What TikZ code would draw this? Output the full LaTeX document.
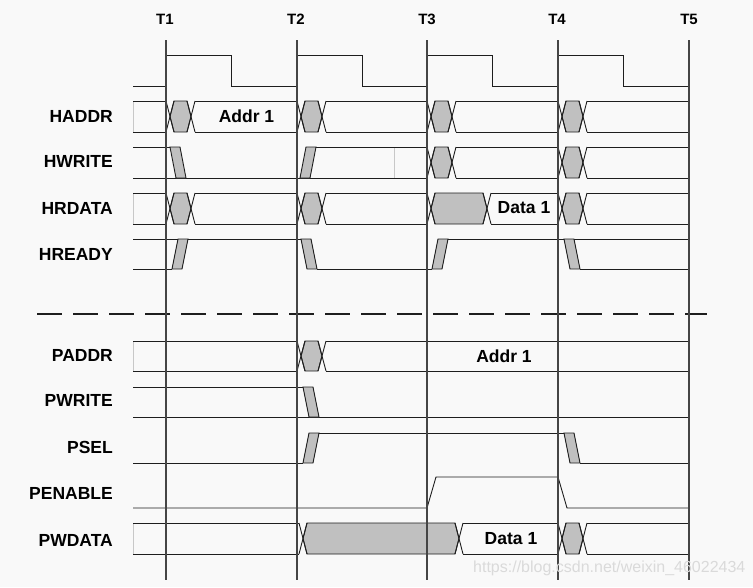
\documentclass[tikz,border=0pt]{standalone}
\usepackage{fontspec}
\setmainfont{Liberation Sans}

\definecolor{bgpaper}{HTML}{F9F9F9}
\definecolor{swapgrey}{HTML}{C0C0C0}
\definecolor{inkline}{HTML}{1E1E1E}
\definecolor{tickline}{HTML}{454545}
\definecolor{edgegrey}{HTML}{C8C8C8}
\definecolor{markgrey}{HTML}{DADADA}

% bus change: #1 start x, #2 end of grey, #3 top y, #4 bottom y
\newcommand{\sigswap}[4]{%
  \filldraw[swapfill] ({#1+4},{(#3+#4)/2}) -- ({#1+8},#3) -- (#2,#3) -- ({#2+4},{(#3+#4)/2}) -- (#2,#4) -- ({#1+8},#4) -- cycle;
  \draw[sig] (#1,#3) -- ({#1+8},#4) (#1,#4) -- ({#1+8},#3);
  \draw[sig] (#2,#3) -- ({#2+8},#4) (#2,#4) -- ({#2+8},#3);}
% rising edge: #1 foot x, #2 top y, #3 bottom y
\newcommand{\sigrise}[3]{%
  \filldraw[swapfill] (#1,#3) -- ({#1+10},#3) -- ({#1+16},#2) -- ({#1+6},#2) -- cycle;}
% falling edge: #1 head x, #2 top y, #3 bottom y
\newcommand{\sigfall}[3]{%
  \filldraw[swapfill] (#1,#2) -- ({#1+10},#2) -- ({#1+16},#3) -- ({#1+6},#3) -- cycle;}

\begin{document}
\begin{tikzpicture}[x=1pt,y=1pt,yscale=-1,xscale=1,
  sig/.style={draw=inkline, line width=0.9pt},
  swapfill/.style={sig, fill=swapgrey},
  tline/.style={draw=tickline, line width=1.2pt},
  closeline/.style={draw=edgegrey, line width=0.8pt},
  splitline/.style={draw=inkline, line width=2.4pt, dash pattern=on 25pt off 11pt},
  siglabel/.style={anchor=east, inner sep=0pt, font=\bfseries\fontsize{17.5}{20}\selectfont},
  tlabel/.style={inner sep=0pt, font=\bfseries\fontsize{15}{18}\selectfont},
  buslabel/.style={inner sep=0pt, font=\bfseries\fontsize{17.5}{20}\selectfont},
  marktext/.style={anchor=west, inner sep=0pt, text=markgrey, font=\fontsize{16}{18}\selectfont}]

%Background
\fill[bgpaper] (0,0) rectangle (753,587);
\useasboundingbox (0,0) rectangle (753,587);

% Text Node: clock edges
\node[tlabel] (t1) at (165,19) {T1};
\node[tlabel] (t2) at (296,19) {T2};
\node[tlabel] (t3) at (427,19) {T3};
\node[tlabel] (t4) at (557,19) {T4};
\node[tlabel] (t5) at (689,19) {T5};

% Text Node: signal names
\node[siglabel] (haddr) at (113,116) {HADDR};
\node[siglabel] (hwrite) at (113,161.5) {HWRITE};
\node[siglabel] (hrdata) at (113,208.5) {HRDATA};
\node[siglabel] (hready) at (113,254) {HREADY};
\node[siglabel] (paddr) at (113,355) {PADDR};
\node[siglabel] (pwrite) at (113,400.5) {PWRITE};
\node[siglabel] (psel) at (113,447.5) {PSEL};
\node[siglabel] (penable) at (113,493.5) {PENABLE};
\node[siglabel] (pwdata) at (113,540) {PWDATA};

%Clock
\draw[sig] (133,86) -- (166,86) -- (166,55) -- (231,55) -- (231,86) -- (297,86) -- (297,55) -- (362,55) -- (362,86) -- (427,86) -- (427,55) -- (492,55) -- (492,86) -- (558,86) -- (558,55) -- (623,55) -- (623,86) -- (689,86);

%HADDR
\draw[closeline] (133,101) -- (133,132);
\draw[sig] (133,101) -- (166,101) (195,101) -- (297,101) (326,101) -- (427,101) (456,101) -- (558,101) (587,101) -- (689,101);
\draw[sig] (133,132) -- (166,132) (195,132) -- (297,132) (326,132) -- (427,132) (456,132) -- (558,132) (587,132) -- (689,132);
\sigswap{166}{187}{101}{132}
\sigswap{297}{318}{101}{132}
\sigswap{427}{448}{101}{132}
\sigswap{558}{579}{101}{132}
\node[buslabel] (addrh) at (246.5,116.5) {Addr 1};

%HWRITE
\draw[closeline] (394,147) -- (394,178);
\draw[sig] (133,147) -- (180,147) (316,147) -- (427,147) (456,147) -- (558,147) (587,147) -- (689,147);
\draw[sig] (133,178) -- (427,178) (456,178) -- (558,178) (587,178) -- (689,178);
\sigfall{170}{147}{178}
\sigrise{300}{147}{178}
\sigswap{427}{448}{147}{178}
\sigswap{558}{579}{147}{178}

%HRDATA
\draw[closeline] (133,193) -- (133,224);
\draw[sig] (133,193) -- (166,193) (195,193) -- (297,193) (326,193) -- (427,193) (491,193) -- (558,193) (587,193) -- (689,193);
\draw[sig] (133,224) -- (166,224) (195,224) -- (297,224) (326,224) -- (427,224) (491,224) -- (558,224) (587,224) -- (689,224);
\sigswap{166}{187}{193}{224}
\sigswap{297}{318}{193}{224}
\sigswap{427}{483}{193}{224}
\sigswap{558}{579}{193}{224}
\node[buslabel] (datah) at (524,208) {Data 1};

%HREADY
\draw[sig] (133,239) -- (311,239) (448,239) -- (689,239);
\draw[sig] (133,269) -- (172,269) (317,269) -- (432,269) (580,269) -- (689,269);
\sigrise{172}{239}{269}
\sigfall{301}{239}{269}
\sigrise{432}{239}{269}
\sigfall{564}{239}{269}

%Dashed split
\draw[splitline] (37,314) -- (707,314);

%PADDR
\draw[closeline] (133,341) -- (133,371);
\draw[sig] (133,341) -- (297,341) (326,341) -- (689,341);
\draw[sig] (133,371) -- (297,371) (326,371) -- (689,371);
\sigswap{297}{318}{341}{371}
\node[buslabel] (addrp) at (504,356) {Addr 1};

%PWRITE
\draw[sig] (133,387) -- (313,387);
\draw[sig] (133,417) -- (690,417);
\sigfall{303}{387}{417}

%PSEL
\draw[sig] (133,463) -- (303,463) (580,463) -- (689,463);
\draw[sig] (319,433) -- (574,433);
\sigrise{303}{433}{463}
\sigfall{564}{433}{463}

%PENABLE
\draw[sig] (133,508) -- (427,508) -- (436,477) -- (558,477) -- (567,508) -- (689,508);

%PWDATA
\draw[closeline] (133,523) -- (133,554);
\draw[sig] (133,523) -- (299,523) (463,523) -- (558,523) (587,523) -- (689,523);
\draw[sig] (133,554) -- (299,554) (463,554) -- (558,554) (587,554) -- (689,554);
\sigswap{299}{455}{523}{554}
\sigswap{558}{579}{523}{554}
\node[buslabel] (datap) at (511,538.5) {Data 1};

%Clock edge lines
\draw[tline] (166,40) -- (166,580);
\draw[tline] (297,40) -- (297,580);
\draw[tline] (427,40) -- (427,580);
\draw[tline] (558,40) -- (558,580);
\draw[tline] (689,40) -- (689,580);

% Text Node
\node[marktext] (mark) at (473,568) {https://blog.csdn.net/weixin\_46022434};

\end{tikzpicture}
\end{document}
